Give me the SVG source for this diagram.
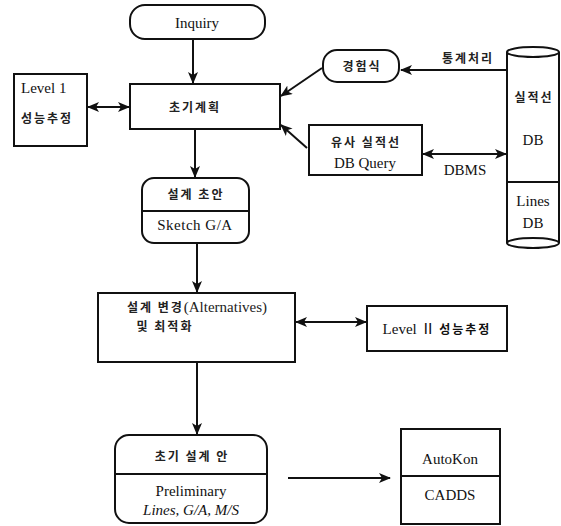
<svg xmlns="http://www.w3.org/2000/svg" width="561" height="526" viewBox="0 0 561 526">
<defs>
<style>
.b{fill:#fff;stroke:#111;stroke-width:2}
.c{fill:none;stroke:#111;stroke-width:2}
.t{font-family:"Liberation Serif","Noto Sans CJK KR",serif;font-size:15px;fill:#111;text-anchor:middle}
.k{font-family:"Noto Sans CJK KR","Liberation Serif",sans-serif;font-size:12px;font-weight:bold;fill:#222;text-anchor:middle;letter-spacing:2px}
.s{text-anchor:start}
</style>
<marker id="ah" viewBox="0 0 12 10" refX="11" refY="5" markerWidth="12" markerHeight="10" markerUnits="userSpaceOnUse" orient="auto-start-reverse">
<path d="M0,0 L12,5 L0,10 L3,5 z" fill="#111"/>
</marker>
</defs>
<rect width="561" height="526" fill="#fff"/>
<g id="connectors">
<line class="c" x1="193" y1="39" x2="193" y2="83" marker-end="url(#ah)"/>
<line class="c" x1="88" y1="107" x2="129" y2="107" marker-start="url(#ah)" marker-end="url(#ah)"/>
<line class="c" x1="322" y1="68" x2="281" y2="96" marker-end="url(#ah)"/>
<line class="c" x1="307" y1="148" x2="281" y2="125" marker-end="url(#ah)"/>
<line class="c" x1="507" y1="70" x2="401" y2="70" marker-end="url(#ah)"/>
<line class="c" x1="423" y1="154" x2="506" y2="154" marker-start="url(#ah)" marker-end="url(#ah)"/>
<line class="c" x1="195" y1="129" x2="195" y2="177" marker-end="url(#ah)"/>
<line class="c" x1="197" y1="243" x2="197" y2="292" marker-end="url(#ah)"/>
<line class="c" x1="296" y1="322" x2="366" y2="322" marker-start="url(#ah)" marker-end="url(#ah)"/>
<line class="c" x1="197" y1="362" x2="197" y2="434" marker-end="url(#ah)"/>
<line class="c" x1="288" y1="478" x2="390" y2="478" marker-end="url(#ah)"/>
<text class="k" x="468" y="63">통계처리</text>
<text class="t" x="465" y="175">DBMS</text>
</g>
<g id="inquiry">
<rect class="b" x="130" y="5" width="135" height="34" rx="15"/>
<text class="t" x="197" y="28">Inquiry</text>
</g>
<g id="level1">
<rect class="b" x="14" y="74" width="73" height="72"/>
<text class="t s" x="21" y="93">Level  1</text>
<text class="k s" x="21" y="123">성능추정</text>
</g>
<g id="initial-plan">
<rect class="b" x="130" y="84" width="150" height="45"/>
<text class="k" x="195" y="112">초기계획</text>
</g>
<g id="empirical">
<rect class="b" x="323" y="50" width="76" height="32" rx="14"/>
<text class="k" x="362" y="71">경험식</text>
</g>
<g id="similar-query">
<rect class="b" x="309" y="125" width="113" height="50"/>
<text class="k" x="366" y="147">유사 실적선</text>
<text class="t" x="365" y="168">DB Query</text>
</g>
<g id="db">
<path class="b" d="M507,52 L507,243 A26,5 0 0 0 559,243 L559,52"/>
<ellipse class="b" cx="533" cy="52" rx="26" ry="5"/>
<line class="c" x1="507" y1="182" x2="559" y2="182"/>
<path class="c" d="M507,243 A26,5 0 0 1 559,243"/>
<text class="k" x="534" y="102">실적선</text>
<text class="t" x="533" y="145">DB</text>
<text class="t" x="533" y="206">Lines</text>
<text class="t" x="533" y="228">DB</text>
</g>
<g id="sketch">
<rect class="b" x="142" y="178" width="107" height="65" rx="12"/>
<line class="c" x1="142" y1="211" x2="249" y2="211"/>
<text class="k" x="196" y="199">설계 초안</text>
<text class="t" x="195" y="230" letter-spacing="0.5">Sketch G/A</text>
</g>
<g id="alternatives">
<rect class="b" x="98" y="293" width="197" height="69"/>
<text class="k" x="197" y="312" letter-spacing="1"><tspan>설계  변경</tspan><tspan font-family="Liberation Serif,serif" font-weight="normal" font-size="15" letter-spacing="0">(Alternatives)</tspan></text>
<text class="k" x="165" y="331">및 최적화</text>
</g>
<g id="level2">
<rect class="b" x="367" y="306" width="140" height="45"/>
<text class="t" x="437" y="334"><tspan>Level  Ⅱ  </tspan><tspan font-family="Noto Sans CJK KR,sans-serif" font-size="12" font-weight="bold" letter-spacing="2">성능추정</tspan></text>
</g>
<g id="preliminary">
<rect class="b" x="115" y="435" width="152" height="88" rx="14"/>
<line class="c" x1="115" y1="474" x2="267" y2="474"/>
<text class="k" x="192" y="461">초기 설계 안</text>
<text class="t" x="191" y="496">Preliminary</text>
<text class="t" x="191" y="515" font-style="italic">Lines, G/A, M/S</text>
</g>
<g id="cad">
<rect class="b" x="401" y="429" width="99" height="95"/>
<line class="c" x1="401" y1="476" x2="500" y2="476"/>
<text class="t" x="450" y="464">AutoKon</text>
<text class="t" x="450" y="500">CADDS</text>
</g>
</svg>
